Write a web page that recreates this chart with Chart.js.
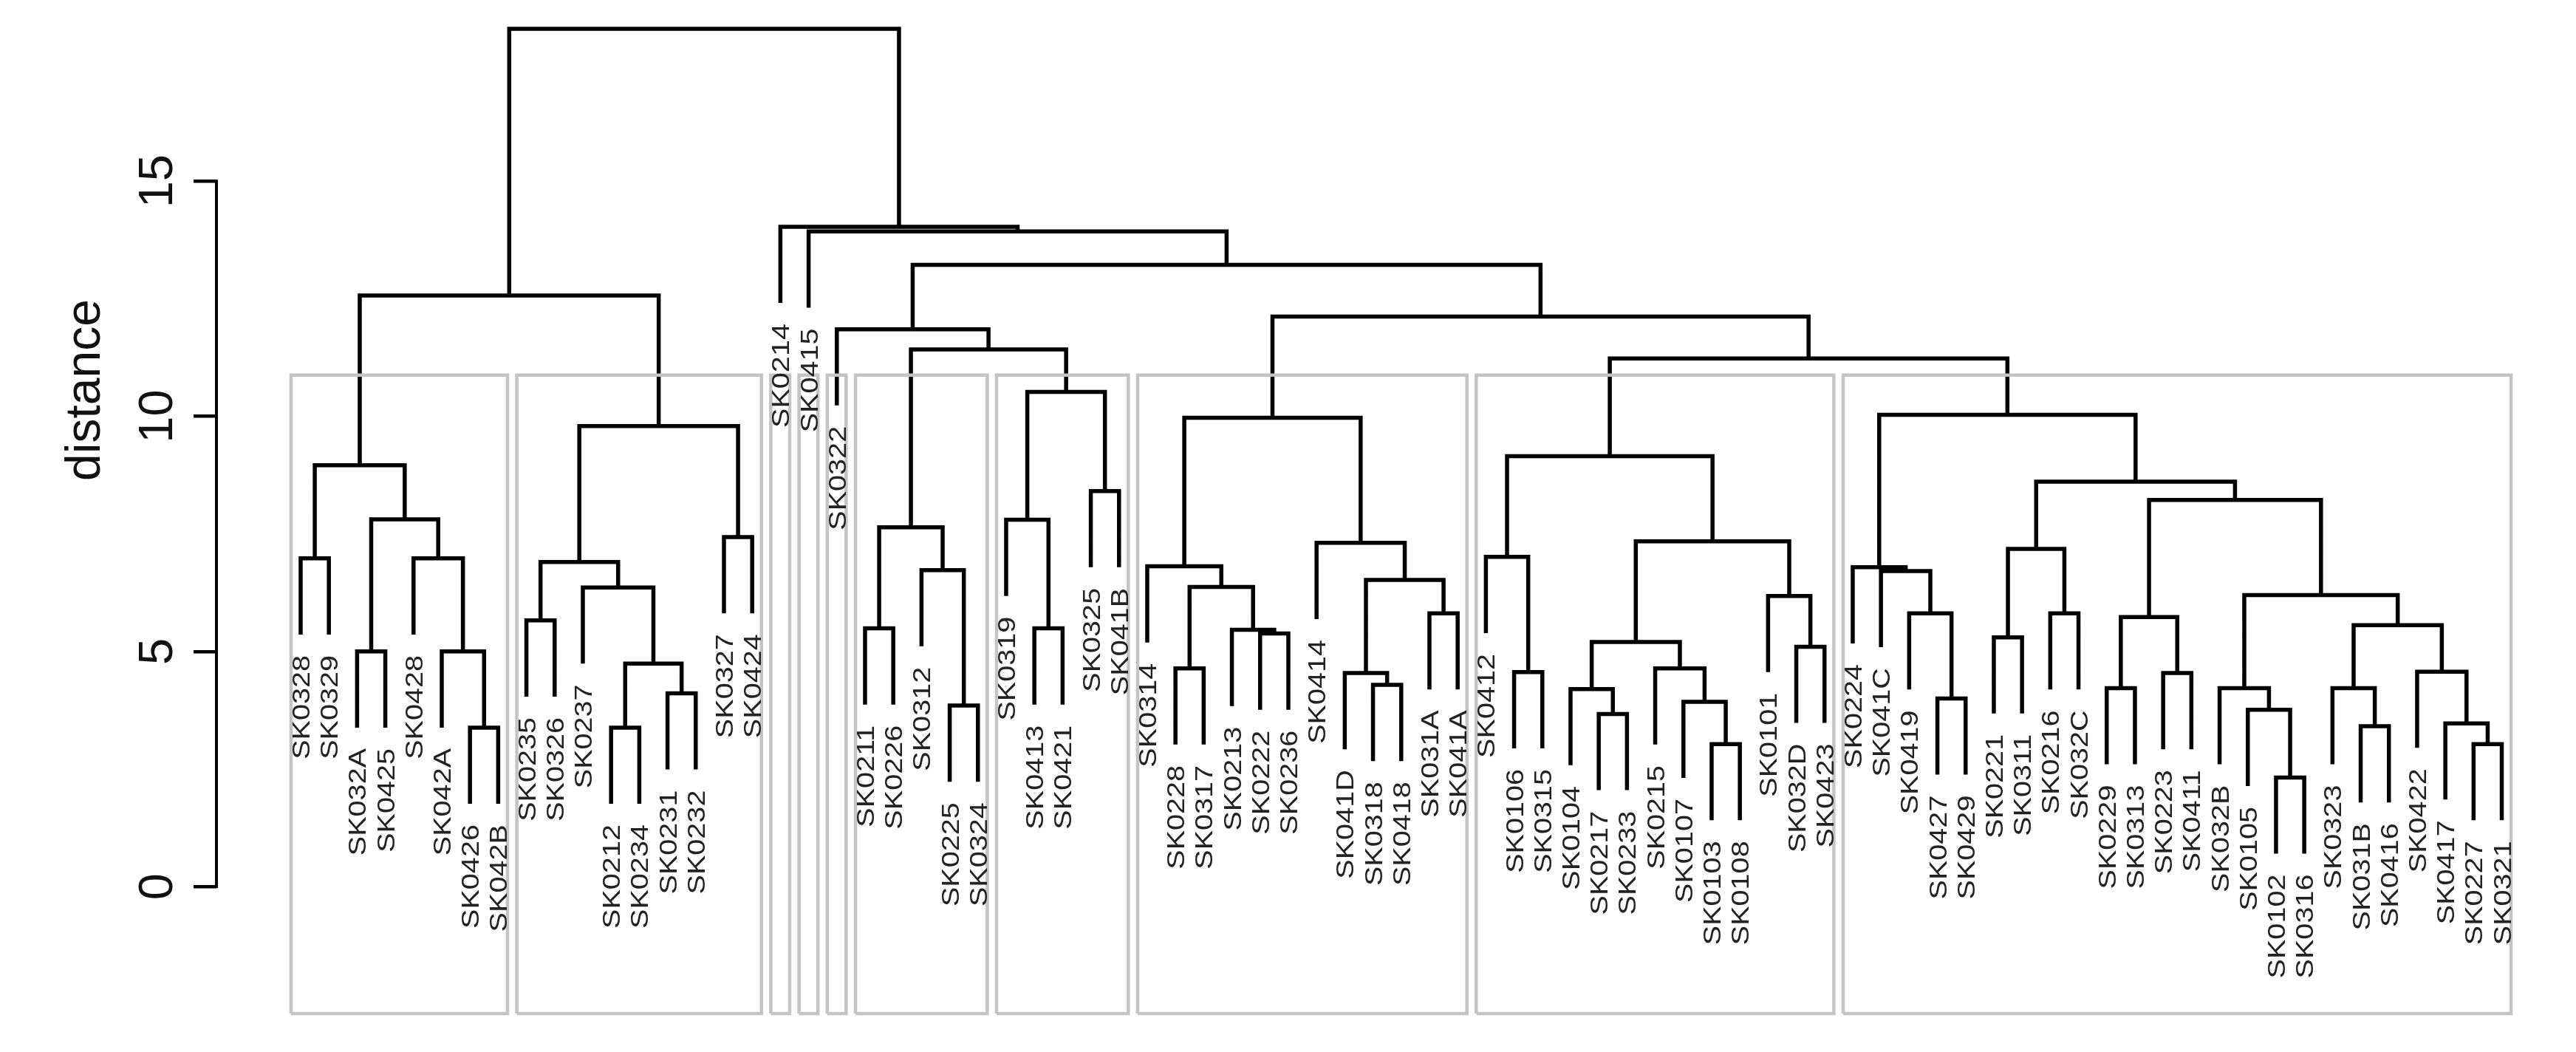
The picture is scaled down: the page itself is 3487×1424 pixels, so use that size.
<!DOCTYPE html>
<html>
<head>
<meta charset="utf-8">
<script src="https://cdn.jsdelivr.net/npm/chart.js@4.4.0/dist/chart.umd.min.js"></script>
<style>
html, body { margin: 0; padding: 0; background: #fff; }
</style>
</head>
<body>
<canvas id="dendro" width="3487" height="1424"></canvas>
<script>
// leaves, in the order they are plotted
var leafLabels = [
    'SK0328', 'SK0329', 'SK032A', 'SK0425', 'SK0428', 'SK042A', 'SK0426', 'SK042B',
    'SK0235', 'SK0326', 'SK0237', 'SK0212', 'SK0234', 'SK0231', 'SK0232', 'SK0327', 'SK0424',
    'SK0214', 'SK0415', 'SK0322',
    'SK0211', 'SK0226', 'SK0312', 'SK0225', 'SK0324',
    'SK0319', 'SK0413', 'SK0421', 'SK0325', 'SK041B',
    'SK0314', 'SK0228', 'SK0317', 'SK0213', 'SK0222', 'SK0236', 'SK0414', 'SK041D', 'SK0318', 'SK0418', 'SK031A', 'SK041A',
    'SK0412', 'SK0106', 'SK0315', 'SK0104', 'SK0217', 'SK0233', 'SK0215', 'SK0107', 'SK0103', 'SK0108', 'SK0101', 'SK032D', 'SK0423',
    'SK0224', 'SK041C', 'SK0419', 'SK0427', 'SK0429', 'SK0221', 'SK0311', 'SK0216', 'SK032C', 'SK0229', 'SK0313', 'SK0223', 'SK0411',
    'SK032B', 'SK0105', 'SK0102', 'SK0316', 'SK0323', 'SK031B', 'SK0416', 'SK0422', 'SK0417', 'SK0227', 'SK0321'
];

// merge table like R's hclust: negative = leaf position, positive = earlier row; third value = distance
var merges = [
    [-1, -2, 6.98], [-3, -4, 5.00], [-7, -8, 3.38], [-6, 3, 5.00], [-5, 4, 6.98], [2, 5, 7.81], [1, 6, 8.96],
    [-9, -10, 5.66], [-12, -13, 3.38], [-14, -15, 4.11], [9, 10, 4.74], [-11, 11, 6.36], [8, 12, 6.90],
    [-16, -17, 7.43], [13, 14, 9.79], [7, 15, 12.57],
    [-21, -22, 5.49], [-24, -25, 3.85], [-23, 18, 6.73], [17, 19, 7.64],
    [-27, -28, 5.49], [-26, 21, 7.80], [-29, -30, 8.41], [22, 23, 10.52], [20, 24, 11.42], [-20, 25, 11.85],
    [-32, -33, 4.64], [-35, -36, 5.38], [-34, 28, 5.46], [27, 29, 6.37], [-31, 30, 6.81],
    [-39, -40, 4.29], [-38, 32, 4.54], [-41, -42, 5.81], [33, 34, 6.52], [-37, 35, 7.31], [31, 36, 9.97],
    [-44, -45, 4.56], [-43, 38, 7.01], [-47, -48, 3.67], [-46, 40, 4.20], [-51, -52, 3.03], [-50, 42, 3.93],
    [-49, 43, 4.64], [41, 44, 5.20], [-54, -55, 5.10], [-53, 46, 6.18], [45, 47, 7.34], [39, 48, 9.15],
    [-59, -60, 4.00], [-58, 50, 5.81], [-57, 51, 6.71], [-56, 52, 6.79],
    [-61, -62, 5.30], [-63, -64, 5.81], [54, 55, 7.18],
    [-65, -66, 4.22], [-67, -68, 4.54], [57, 58, 5.73],
    [-71, -72, 2.32], [-70, 60, 3.76], [-69, 61, 4.22],
    [-74, -75, 3.41], [-73, 63, 4.22], [-78, -79, 3.03], [-77, 65, 3.47], [-76, 66, 4.57], [64, 67, 5.56],
    [62, 68, 6.20], [59, 69, 8.22], [56, 70, 8.61], [53, 71, 10.03],
    [49, 72, 11.23], [37, 73, 12.12], [26, 74, 13.22], [-19, 75, 13.93], [-18, 76, 14.03], [16, 77, 18.24]
];

var yTicks = [0, 5, 10, 15];
var nClusters = 10;
var hang = 1.62;
var yTitle = 'distance';

// positions of every merge, following plot.hclust
var nodeX = [], nodeH = [], nodeLo = [], nodeHi = [], leafEnd = [];
var treePts = [];
merges.forEach(function (m, k) {
    var row = k + 1, h = m[2];
    var xs = [], hs = [], los = [], his = [];
    [m[0], m[1]].forEach(function (c) {
        if (c < 0) {
            xs.push(-c); hs.push(h - hang); los.push(-c); his.push(-c);
            leafEnd[-c] = h - hang;
        } else {
            xs.push(nodeX[c]); hs.push(nodeH[c]); los.push(nodeLo[c]); his.push(nodeHi[c]);
        }
    });
    nodeX[row] = (xs[0] + xs[1]) / 2;
    nodeH[row] = h;
    nodeLo[row] = Math.min(los[0], los[1]);
    nodeHi[row] = Math.max(his[0], his[1]);
    treePts.push({x: xs[0], y: hs[0]}, {x: xs[0], y: h}, {x: xs[1], y: h}, {x: xs[1], y: hs[1]}, {x: xs[1], y: null});
});

// rect.hclust boxes for k clusters
var sortedH = merges.map(function (m) { return m[2]; }).sort(function (a, b) { return b - a; });
var boxTop = (sortedH[nClusters - 2] + sortedH[nClusters - 1]) / 2;
var yMin = -2.7, yMax = 18.6;
var clusters = [];
function collect(c) {
    if (c < 0) { clusters.push([-c, -c]); return; }
    if (nodeH[c] > boxTop) { collect(merges[c - 1][0]); collect(merges[c - 1][1]); }
    else clusters.push([nodeLo[c], nodeHi[c]]);
}
collect(merges.length);
var boxPts = [];
clusters.forEach(function (cl) {
    var l = cl[0] - 0.34, r = cl[1] + 0.33;
    boxPts.push({x: l, y: yMin}, {x: l, y: boxTop}, {x: r, y: boxTop}, {x: r, y: yMin}, {x: l, y: yMin}, {x: l, y: null});
});

var dendroText = {
    id: 'dendroText',
    afterDraw: function (chart) {
        var ctx = chart.ctx, xs = chart.scales.x, ys = chart.scales.y, ca = chart.chartArea;
        ctx.save();
        ctx.strokeStyle = '#000';
        ctx.lineWidth = 4;
        ctx.beginPath();
        ctx.moveTo(ca.left, ys.getPixelForValue(yTicks[0]) + 2);
        ctx.lineTo(ca.left, ys.getPixelForValue(yTicks[yTicks.length - 1]) - 2);
        ctx.stroke();

        ctx.fillStyle = '#111';
        ctx.textAlign = 'center';
        ctx.textBaseline = 'alphabetic';
        ctx.font = '65px "Liberation Sans", Arial, sans-serif';
        yTicks.forEach(function (v) {
            ctx.save();
            ctx.translate(233, ys.getPixelForValue(v));
            ctx.rotate(-Math.PI / 2);
            ctx.fillText(String(v), 0, 0);
            ctx.restore();
        });
        ctx.save();
        ctx.font = '66px "Liberation Sans", Arial, sans-serif';
        ctx.translate(135, 528);
        ctx.rotate(-Math.PI / 2);
        ctx.fillText(yTitle, 0, 0);
        ctx.restore();

        ctx.fillStyle = '#222';
        ctx.font = '33px "Liberation Sans", Arial, sans-serif';
        ctx.textAlign = 'right';
        leafLabels.forEach(function (lab, i) {
            ctx.save();
            ctx.translate(xs.getPixelForValue(i + 1) + 12, ys.getPixelForValue(leafEnd[i + 1]) + 28);
            ctx.rotate(-Math.PI / 2);
            ctx.scale(1.2, 1);
            ctx.fillText(lab, 0, 0);
            ctx.restore();
        });
        ctx.restore();
    }
};

new Chart(document.getElementById('dendro').getContext('2d'), {
    type: 'line',
    data: {
        datasets: [
            {
                label: 'clusters',
                data: boxPts,
                borderColor: '#c4c4c4',
                borderWidth: 4.5,
                pointRadius: 0,
                tension: 0,
                spanGaps: false,
                clip: false
            },
            {
                label: 'tree',
                data: treePts,
                borderColor: '#000',
                borderWidth: 5.5,
                borderJoinStyle: 'miter',
                pointRadius: 0,
                tension: 0,
                spanGaps: false,
                clip: false
            }
        ]
    },
    options: {
        responsive: false,
        devicePixelRatio: 1,
        animation: false,
        events: [],
        layout: { padding: { top: 16, bottom: 52, left: 0, right: 0 } },
        plugins: { legend: { display: false }, tooltip: { enabled: false } },
        scales: {
            x: { type: 'linear', display: false, min: -1.984, max: 81.63 },
            y: {
                type: 'linear',
                min: yMin,
                max: yMax,
                afterBuildTicks: function (scale) {
                    scale.ticks = yTicks.map(function (v) { return {value: v}; });
                },
                afterFit: function (scale) { scale.width = 293; },
                ticks: { display: false },
                border: { display: false },
                grid: { drawOnChartArea: false, drawTicks: true, tickLength: 31, color: '#000', lineWidth: 4.5 }
            }
        }
    },
    plugins: [dendroText]
});
</script>
</body>
</html>
